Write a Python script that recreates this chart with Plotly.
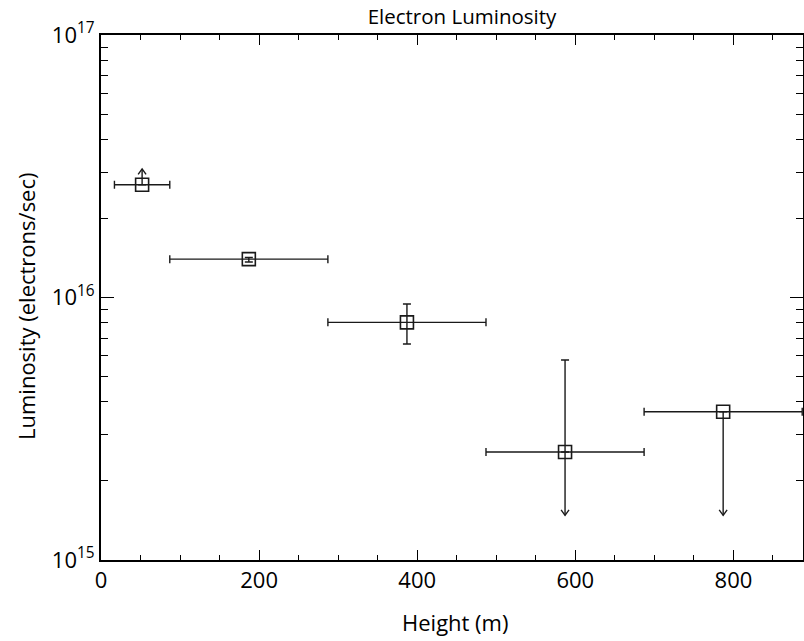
import numpy as np
import plotly.graph_objects as go

# ---- data ----
height = [52, 187, 387, 587, 787]           # bin centre (m)
height_lo = [17, 87, 287, 487, 687]         # bin lower edge (m)
height_hi = [87, 287, 487, 687, 887]        # bin upper edge (m)
lum = [2.69e16, 1.40e16, 8.04e15, 2.58e15, 3.67e15]       # electrons/sec
lum_hi = [None, 1.42e16, 9.44e15, 5.78e15, None]           # upper error bound
lum_lo = [None, 1.365e16, 6.65e15, None, None]             # lower error bound
lum_limit = [3.09e16, None, None, 1.48e15, 1.48e15]        # limit-arrow tips

x_ticks = [0, 200, 400, 600, 800]
y_ticks = [1e15, 1e16, 1e17]
y_ticktext = ["10<sup>15</sup>", "10<sup>16</sup>", "10<sup>17</sup>"]

# ---- style constants ----
INK = "#1a1a1a"
FONT = "Open Sans"
WING_X = 5.0                     # arrow chevron half-width (data units)
WING_F = 10 ** (5.5 / 262.5)     # arrow chevron height factor (log axis)
W, H = 804, 641
L, R, T, B = 101, 1, 35, 81
PW, PH = W - L - R, H - T - B

err_plus = [(h - v) if h is not None else None for h, v in zip(lum_hi, lum)]
err_minus = []
for lo, hi, v in zip(lum_lo, lum_hi, lum):
    if lo is not None:
        err_minus.append(v - lo)
    elif hi is not None:
        err_minus.append(0)
    else:
        err_minus.append(None)

fig = go.Figure()

# limit arrows (stem + open chevron)
ax, ay = [], []
for xv, v, tip in zip(height, lum, lum_limit):
    if tip is None:
        continue
    wing_y = tip / WING_F if tip > v else tip * WING_F
    ax += [xv, xv, None, xv - WING_X, xv, xv + WING_X, None]
    ay += [v, tip, None, wing_y, tip, wing_y, None]
fig.add_trace(go.Scatter(x=ax, y=ay, mode="lines",
                         line=dict(color=INK, width=1.4),
                         hoverinfo="skip", showlegend=False))

# data points with error bars
fig.add_trace(go.Scatter(
    x=height, y=lum, mode="markers",
    marker=dict(symbol="square-open", size=13, color=INK,
                line=dict(color=INK, width=1.6)),
    error_x=dict(type="data", symmetric=False,
                 array=[h - c for h, c in zip(height_hi, height)],
                 arrayminus=[c - l for l, c in zip(height_lo, height)],
                 color=INK, thickness=1.4, width=4),
    error_y=dict(type="data", symmetric=False,
                 array=err_plus, arrayminus=err_minus,
                 color=INK, thickness=1.4, width=4),
    showlegend=False))

minor_y = [m * 10 ** d for d in (15, 16) for m in range(2, 10)]

fig.update_layout(
    width=W, height=H,
    margin=dict(l=L, r=R, t=T, b=B, autoexpand=False),
    paper_bgcolor="white", plot_bgcolor="white",
    font=dict(family=FONT, color="black", size=22),
    title=dict(text="Electron Luminosity", font=dict(size=20.5, family=FONT, color="black"),
               x=462 / W, xref="container", xanchor="center",
               y=1 - 17 / H, yref="container", yanchor="middle"),
    xaxis=dict(range=[0, 888], tickmode="array", tickvals=x_ticks,
               ticks="inside", ticklen=10, tickwidth=1.4, tickcolor="black",
               minor=dict(tickmode="linear", tick0=0, dtick=50, ticks="inside",
                          ticklen=5, tickwidth=1.2, tickcolor="black"),
               showline=True, linewidth=2, linecolor="black", mirror="ticks",
               showgrid=False, zeroline=False, automargin=False,
               tickfont=dict(size=22)),
    yaxis=dict(type="log", range=[15, 17], tickmode="array",
               tickvals=y_ticks, ticktext=y_ticktext,
               ticks="inside", ticklen=13, tickwidth=1.4, tickcolor="black",
               minor=dict(tickmode="array", tickvals=minor_y, ticks="inside",
                          ticklen=7, tickwidth=1.2, tickcolor="black"),
               showline=True, linewidth=2, linecolor="black", mirror="ticks",
               showgrid=False, zeroline=False, automargin=False,
               tickfont=dict(size=22)),
    annotations=[
        dict(text="Height (m)", xref="paper", yref="paper",
             x=(455 - L) / PW, y=(H - B - 622) / PH,
             xanchor="center", yanchor="middle", showarrow=False,
             font=dict(size=22)),
        dict(text="Luminosity (electrons/sec)", xref="paper", yref="paper",
             x=(26 - L) / PW, y=(H - B - 306) / PH, textangle=-90,
             xanchor="center", yanchor="middle", showarrow=False,
             font=dict(size=22)),
    ],
)

fig.write_html("out.html",
               config={"displayModeBar": False},
               post_script="document.body.style.margin='0px';document.body.style.overflow='hidden';")
